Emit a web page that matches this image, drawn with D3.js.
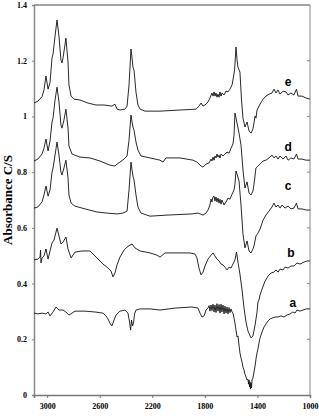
<!DOCTYPE html>
<html>
<head>
<meta charset="utf-8">
<script src="https://cdn.jsdelivr.net/npm/d3@7"></script>
<style>
  body { margin: 0; background: #fff; }
  .tick-label { font-family: "Liberation Serif", "Times New Roman", serif; font-weight: bold; font-size: 8px; fill: #000; }
  .axis-title { font-family: "Liberation Serif", "Times New Roman", serif; font-weight: bold; font-size: 13px; fill: #000; }
  .curve-label { font-family: "Liberation Sans", Arial, sans-serif; font-weight: bold; font-size: 12px; fill: #000; }
  .spectrum { fill: none; stroke: #111; stroke-width: 0.9; stroke-linejoin: round; }
</style>
</head>
<body>
<div id="chart"></div>
<script>
// tick values
const xTicks = [3000, 2600, 2200, 1800, 1400, 1000];
const yTicks = [0, 0.2, 0.4, 0.6, 0.8, 1, 1.2, 1.4];

// series: [wavenumber cm-1, absorbance C/S]
const specE = [
  [3100,1.048],[3070,1.055],[3039,1.071],[3024,1.095],[3009,1.145],[2993,1.098],[2978,1.122],[2963,1.210],
  [2955,1.224],[2940,1.288],[2925,1.346],[2910,1.288],[2895,1.202],[2887,1.192],[2879,1.210],[2857,1.281],
  [2841,1.195],[2834,1.113],[2818,1.073],[2796,1.062],[2750,1.059],[2689,1.048],[2628,1.041],[2567,1.041],
  [2507,1.037],[2484,1.044],[2468,1.026],[2446,1.023],[2408,1.026],[2392,1.037],[2377,1.113],[2362,1.242],
  [2354,1.210],[2347,1.177],[2339,1.166],[2324,1.087],[2309,1.041],[2293,1.026],[2255,1.019],[2141,1.019],
  [1989,1.023],[1867,1.026],[1845,1.037],[1829,1.048],[1814,1.037],[1791,1.044],[1776,1.052],[1761,1.066],
  [1746,1.084],[1738,1.073],[1730,1.088],[1723,1.073],[1715,1.084],[1708,1.069],[1700,1.080],[1692,1.069],
  [1685,1.088],[1677,1.073],[1670,1.084],[1654,1.077],[1639,1.091],[1624,1.088],[1609,1.098],[1593,1.113],
  [1586,1.131],[1574,1.166],[1563,1.249],[1555,1.202],[1548,1.177],[1533,1.159],[1521,1.059],[1510,0.994],
  [1495,0.962],[1479,0.980],[1464,0.948],[1449,0.940],[1434,0.955],[1418,1.001],[1411,0.994],[1403,1.023],
  [1380,1.044],[1357,1.062],[1335,1.073],[1312,1.080],[1289,1.084],[1274,1.098],[1259,1.084],[1243,1.095],
  [1228,1.080],[1205,1.091],[1183,1.088],[1167,1.077],[1145,1.084],[1122,1.077],[1103,1.098],[1091,1.073],
  [1061,1.073],[1030,1.066],[1000,1.062]
];

const specD = [
  [3100,0.840],[3070,0.847],[3039,0.865],[3024,0.886],[3009,0.919],[2993,0.876],[2978,0.912],[2963,0.980],
  [2955,0.994],[2940,1.059],[2925,1.105],[2910,1.052],[2895,0.969],[2887,0.958],[2872,0.987],[2857,1.026],
  [2841,0.958],[2834,0.894],[2811,0.865],[2750,0.854],[2674,0.851],[2598,0.840],[2522,0.825],[2484,0.822],
  [2468,0.829],[2446,0.836],[2415,0.847],[2392,0.858],[2377,0.915],[2362,1.005],[2354,0.980],[2347,0.962],
  [2339,0.951],[2324,0.908],[2309,0.879],[2286,0.858],[2217,0.851],[2141,0.843],[2118,0.836],[2096,0.851],
  [1989,0.851],[1890,0.843],[1860,0.836],[1829,0.822],[1814,0.818],[1791,0.829],[1768,0.833],[1753,0.847],
  [1746,0.840],[1738,0.854],[1730,0.843],[1723,0.858],[1715,0.851],[1708,0.865],[1700,0.854],[1692,0.861],
  [1685,0.851],[1677,0.865],[1662,0.858],[1647,0.865],[1631,0.872],[1616,0.868],[1601,0.886],[1586,0.901],
  [1578,0.933],[1571,1.012],[1563,0.994],[1555,0.976],[1540,0.940],[1525,0.897],[1510,0.808],[1495,0.743],
  [1479,0.765],[1464,0.725],[1449,0.718],[1434,0.732],[1426,0.757],[1411,0.815],[1396,0.822],[1380,0.829],
  [1357,0.840],[1335,0.843],[1312,0.851],[1289,0.861],[1274,0.851],[1259,0.858],[1243,0.847],[1228,0.858],
  [1205,0.847],[1183,0.858],[1167,0.843],[1145,0.851],[1122,0.847],[1103,0.865],[1091,0.847],[1061,0.847],
  [1030,0.843],[1000,0.843]
];

const specC = [
  [3100,0.671],[3070,0.675],[3039,0.693],[3024,0.718],[3009,0.750],[2993,0.714],[2978,0.736],[2963,0.800],
  [2955,0.815],[2940,0.861],[2925,0.908],[2910,0.861],[2895,0.800],[2887,0.790],[2872,0.815],[2857,0.843],
  [2841,0.779],[2834,0.718],[2818,0.689],[2788,0.678],[2712,0.668],[2621,0.657],[2545,0.653],[2468,0.650],
  [2423,0.653],[2392,0.660],[2377,0.736],[2362,0.836],[2354,0.808],[2347,0.786],[2339,0.772],[2324,0.718],
  [2309,0.675],[2286,0.653],[2217,0.642],[2080,0.646],[1898,0.650],[1852,0.653],[1814,0.646],[1791,0.653],
  [1776,0.664],[1761,0.682],[1753,0.703],[1746,0.693],[1738,0.711],[1730,0.714],[1723,0.696],[1715,0.711],
  [1708,0.693],[1700,0.707],[1692,0.689],[1685,0.703],[1677,0.685],[1670,0.700],[1654,0.682],[1639,0.693],
  [1624,0.707],[1609,0.703],[1593,0.721],[1578,0.736],[1571,0.757],[1563,0.804],[1555,0.793],[1540,0.768],
  [1525,0.682],[1510,0.578],[1495,0.528],[1479,0.553],[1464,0.517],[1449,0.510],[1434,0.524],[1426,0.535],
  [1411,0.571],[1396,0.581],[1380,0.596],[1357,0.628],[1335,0.646],[1312,0.660],[1289,0.675],[1274,0.689],
  [1259,0.675],[1243,0.682],[1228,0.671],[1213,0.682],[1190,0.671],[1167,0.678],[1145,0.668],[1122,0.671],
  [1103,0.689],[1091,0.668],[1061,0.668],[1030,0.664],[1000,0.664]
];

const specB = [
  [3100,0.485],[3070,0.488],[3054,0.495],[3050,0.520],[3047,0.474],[3039,0.492],[3024,0.499],[3009,0.524],
  [2993,0.488],[2978,0.517],[2963,0.546],[2948,0.556],[2925,0.599],[2910,0.571],[2895,0.542],[2879,0.549],
  [2857,0.567],[2841,0.524],[2818,0.492],[2788,0.513],[2735,0.517],[2674,0.517],[2621,0.492],[2575,0.470],
  [2537,0.456],[2514,0.445],[2499,0.424],[2484,0.438],[2468,0.467],[2446,0.495],[2415,0.520],[2392,0.531],
  [2370,0.538],[2354,0.542],[2332,0.528],[2293,0.517],[2217,0.510],[2164,0.502],[2141,0.495],[2103,0.510],
  [1989,0.510],[1913,0.510],[1875,0.506],[1860,0.492],[1845,0.456],[1829,0.431],[1814,0.441],[1799,0.463],
  [1776,0.488],[1753,0.502],[1738,0.510],[1723,0.499],[1708,0.488],[1692,0.481],[1677,0.470],[1662,0.467],
  [1647,0.459],[1631,0.449],[1616,0.459],[1601,0.456],[1586,0.470],[1571,0.485],[1559,0.513],[1548,0.477],
  [1533,0.434],[1517,0.377],[1502,0.312],[1487,0.262],[1472,0.230],[1456,0.212],[1449,0.205],[1434,0.212],
  [1418,0.251],[1403,0.298],[1396,0.334],[1388,0.341],[1380,0.359],[1365,0.380],[1342,0.409],[1319,0.427],
  [1297,0.438],[1274,0.441],[1259,0.449],[1243,0.441],[1228,0.452],[1205,0.449],[1190,0.459],[1167,0.456],
  [1145,0.463],[1122,0.463],[1099,0.474],[1076,0.470],[1046,0.477],[1023,0.481],[1000,0.481]
];

const specA = [
  [3100,0.294],[3070,0.291],[3039,0.294],[3009,0.291],[2993,0.298],[2978,0.284],[2955,0.298],[2933,0.316],
  [2910,0.305],[2879,0.305],[2857,0.298],[2834,0.287],[2811,0.294],[2788,0.301],[2712,0.301],[2636,0.298],
  [2575,0.294],[2552,0.284],[2537,0.273],[2522,0.258],[2507,0.248],[2491,0.269],[2476,0.287],[2446,0.301],
  [2408,0.305],[2385,0.294],[2373,0.262],[2365,0.233],[2358,0.269],[2350,0.248],[2343,0.258],[2335,0.291],
  [2324,0.305],[2293,0.309],[2217,0.309],[2141,0.305],[2027,0.312],[1898,0.316],[1852,0.312],[1837,0.294],
  [1822,0.280],[1806,0.284],[1791,0.305],[1776,0.312],[1768,0.321],[1761,0.301],[1753,0.323],[1746,0.303],
  [1738,0.326],[1730,0.298],[1723,0.323],[1715,0.296],[1708,0.328],[1700,0.301],[1692,0.325],[1685,0.294],
  [1677,0.326],[1670,0.298],[1662,0.323],[1654,0.291],[1647,0.319],[1639,0.294],[1631,0.316],[1624,0.291],
  [1616,0.314],[1609,0.296],[1601,0.309],[1593,0.298],[1586,0.294],[1578,0.276],[1571,0.258],[1563,0.233],
  [1555,0.208],[1548,0.212],[1540,0.179],[1533,0.151],[1525,0.133],[1517,0.118],[1510,0.100],[1502,0.090],
  [1495,0.075],[1487,0.065],[1479,0.054],[1472,0.057],[1468,0.039],[1464,0.054],[1460,0.029],[1456,0.047],
  [1453,0.022],[1449,0.043],[1445,0.025],[1441,0.054],[1434,0.061],[1426,0.083],[1418,0.104],[1411,0.129],
  [1403,0.151],[1396,0.165],[1388,0.187],[1380,0.205],[1365,0.226],[1350,0.244],[1335,0.255],[1319,0.266],
  [1304,0.273],[1289,0.276],[1266,0.280],[1243,0.280],[1221,0.284],[1198,0.280],[1175,0.287],[1152,0.291],
  [1130,0.298],[1114,0.294],[1099,0.305],[1076,0.301],[1053,0.305],[1030,0.309],[1000,0.309]
];

const seriesNames = ['a', 'b', 'c', 'd', 'e'];
const seriesData = [specA, specB, specC, specD, specE];

const width = 319, height = 418;
const margin = { top: 5, right: 9, bottom: 23, left: 34 };
const innerW = width - margin.left - margin.right;
const innerH = height - margin.top - margin.bottom;

const x = d3.scaleLinear().domain([3100, 1000]).range([0, innerW]);
const y = d3.scaleLinear().domain([0, 1.4]).range([innerH, 0]);

const svg = d3.select('#chart').append('svg')
  .attr('width', width)
  .attr('height', height)
  .style('display', 'block');

svg.append('rect').attr('width', width).attr('height', height).attr('fill', '#fff');

const g = svg.append('g').attr('transform', `translate(${margin.left},${margin.top})`);

// frame: top and right border, right border has inner ticks
g.append('line').attr('x1', 0).attr('x2', innerW).attr('y1', 0).attr('y2', 0)
  .attr('stroke', '#444').attr('stroke-width', 1);
g.append('line').attr('x1', innerW).attr('x2', innerW).attr('y1', 0).attr('y2', innerH)
  .attr('stroke', '#888').attr('stroke-width', 1);
g.selectAll('.rtick').data(yTicks.slice(1, -1)).join('line')
  .attr('class', 'rtick')
  .attr('x1', innerW - 3).attr('x2', innerW)
  .attr('y1', d => y(d)).attr('y2', d => y(d))
  .attr('stroke', '#888');

// y axis
const yAxis = g.append('g')
  .call(d3.axisLeft(y).tickValues(yTicks).tickSize(2).tickPadding(5).tickFormat(d3.format('~g')));
yAxis.select('.domain').attr('stroke', '#888').attr('stroke-width', 1.5);
yAxis.selectAll('.tick line').attr('stroke', '#888');
yAxis.selectAll('text').attr('class', 'tick-label').attr('font-family', null).attr('font-size', null);

// x axis
const xAxis = g.append('g')
  .attr('transform', `translate(0,${innerH})`)
  .call(d3.axisBottom(x).tickValues(xTicks).tickSize(3).tickPadding(5).tickFormat(d3.format('d')));
xAxis.select('.domain').attr('stroke', '#777').attr('stroke-width', 1.5);
xAxis.selectAll('.tick line').attr('stroke', '#777');
xAxis.selectAll('text').attr('class', 'tick-label').attr('font-family', null).attr('font-size', null);

// axis title
svg.append('text')
  .attr('class', 'axis-title')
  .attr('transform', `translate(12,${margin.top + innerH / 2}) rotate(-90)`)
  .attr('text-anchor', 'middle')
  .text('Absorbance C/S');

// spectra
const line = d3.line()
  .x(d => x(d[0]))
  .y(d => y(d[1]));

g.selectAll('.spectrum').data(seriesData).join('path')
  .attr('class', 'spectrum')
  .attr('d', line);

// curve labels (wavenumber, absorbance of label centre)
const labelAt = { e: [1167, 1.124], d: [1167, 0.890], c: [1167, 0.750], b: [1145, 0.510], a: [1130, 0.330] };
g.selectAll('.curve-label').data(seriesNames).join('text')
  .attr('class', 'curve-label')
  .attr('x', d => x(labelAt[d][0]))
  .attr('y', d => y(labelAt[d][1]))
  .attr('dy', '0.35em')
  .attr('text-anchor', 'middle')
  .text(d => d);
</script>
</body>
</html>
